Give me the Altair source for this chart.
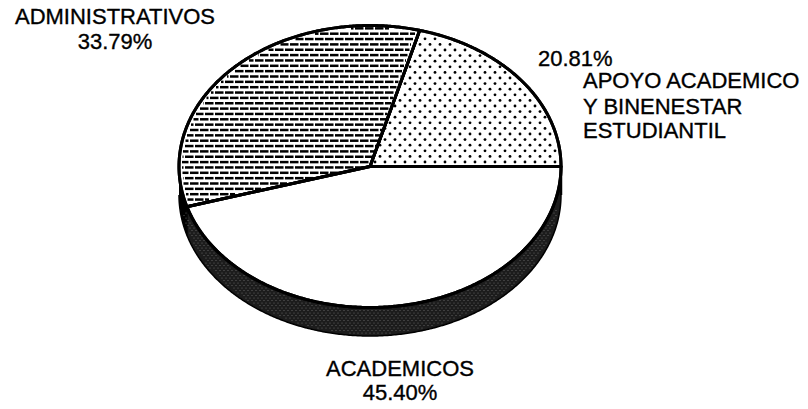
import math
import altair as alt
import pandas as pd

labels = ["APOYO ACADEMICO Y BINENESTAR ESTUDIANTIL", "ADMINISTRATIVOS", "ACADEMICOS"]
shares = [20.81, 33.79, 45.40]

W, H = 792, 393
CX, CY, RX, RY = 362, 158.5, 191, 141   # pie centre and radii in plot pixels
DEPTH = 28.5 / RY


def ux(px):
    return (px - CX) / RX


def uy(py):
    return (CY - py) / RY


x_scale = alt.Scale(domain=[ux(0), ux(W)], range=[0, W], nice=False, zero=False)
y_scale = alt.Scale(domain=[uy(H), uy(0)], range=[H, 0], nice=False, zero=False)
X = alt.X("x:Q", scale=x_scale, axis=None)
Y = alt.Y("y:Q", scale=y_scale, axis=None)

# wedge angles from the shares, starting east and going anticlockwise
edges = [0.0]
for s in shares:
    edges.append(edges[-1] + s * 3.6)


def arc(a0, a1, dy=0.0):
    n = max(2, int(abs(a1 - a0)) * 2)
    return [(math.cos(math.radians(a0 + (a1 - a0) * i / n)),
             math.sin(math.radians(a0 + (a1 - a0) * i / n)) - dy) for i in range(n + 1)]


def poly(pts, fill, stroke="#000000", sw=3.0):
    df = pd.DataFrame({"x": [p[0] for p in pts], "y": [p[1] for p in pts], "i": range(len(pts))})
    return alt.Chart(df).mark_line(fill=fill, stroke=stroke, strokeWidth=sw, strokeJoin="round").encode(
        x=X, y=Y, order="i:Q")


def wedge(a0, a1, fill):
    return poly([(0, 0)] + arc(a0, a1) + [(0, 0)], fill)


def inside(u, v, a0, a1, margin=0.985):
    if u * u + v * v > margin * margin:
        return False
    a = math.degrees(math.atan2(v, u)) % 360
    return a0 + 1.0 < a < a1 - 1.0


# texture of the two patterned wedges
dots = []
row = 0
py = 14.0
while py < 165:
    px = 362.0 + (5 if row % 2 else 0)
    while px < 560:
        u, v = ux(px), uy(py)
        if inside(u, v, edges[0], edges[1]) and v > 0.02:
            dots.append((u, v))
        px += 10
    py += 5.6
    row += 1
dots_df = pd.DataFrame(dots, columns=["x", "y"])

bricks = []
row = 0
py = 15.0
while py < 210:
    px = 162.0 + (5 if row % 2 else 0)
    while px < 430:
        xs = [px + t * 0.5 for t in range(0, 18)]
        keep = [x for x in xs if inside(ux(x), uy(py), edges[1], edges[2])]
        if len(keep) >= 2:
            bricks.append((ux(keep[0]), ux(keep[-1]), uy(py)))
        px += 10
    py += 5.35
    row += 1
bricks_df = pd.DataFrame(bricks, columns=["x", "x2", "y"])

# fine lighter specks on the dark side band
specks = []
row = 0
py = 160.0
while py < 335:
    px = 170.0 + (2 if row % 2 else 0)
    while px < 560:
        u, v = ux(px), uy(py)
        a = math.degrees(math.atan2(v, u)) % 360
        if u * u + v * v > 1.03 and u * u + (v + DEPTH) ** 2 < 0.97 and a > edges[2] + 2:
            specks.append((u, v))
        px += 4
    py += 2.5
    row += 1
specks_df = pd.DataFrame(specks, columns=["x", "y"])

side_gray = poly(arc(edges[2], 360) + arc(360, edges[2], DEPTH), "#1c1c1c", "#000000", 1.5)
side_black = poly(arc(180, edges[2]) + arc(edges[2], 180, DEPTH), "#000000", "#000000", 1.5)
right_edge = poly([(1, 0), (1, -DEPTH)], "#000000", "#000000", 2.5)

top_dots = wedge(edges[0], edges[1], "#ffffff")
top_bricks = wedge(edges[1], edges[2], "#ffffff")
top_plain = wedge(edges[2], edges[3], "#ffffff")

dot_layer = alt.Chart(dots_df).mark_point(filled=True, color="#000000", size=8, opacity=1).encode(x=X, y=Y)
brick_layer = alt.Chart(bricks_df).mark_rule(color="#000000", strokeWidth=2.5).encode(
    x=X, x2="x2:Q", y=alt.Y("y:Q", scale=y_scale, axis=None))
speck_layer = alt.Chart(specks_df).mark_point(filled=True, color="#8a8a8a", size=1.5, opacity=0.7).encode(x=X, y=Y)

outline_a = poly([(0, 0)] + arc(edges[0], edges[1]) + [(0, 0)], "transparent")
outline_b = poly([(0, 0)] + arc(edges[1], edges[2]) + [(0, 0)], "transparent")
outline_c = poly([(0, 0)] + arc(edges[2], edges[3]) + [(0, 0)], "transparent")

texts = pd.DataFrame({
    "t": ["ADMINISTRATIVOS", "33.79%", "ACADEMICOS", "45.40%"],
    "x": [ux(107), ux(107), ux(392), ux(392)],
    "y": [uy(15.5), uy(41), uy(368), uy(391.5)],
})
left_texts = pd.DataFrame({
    "t": ["20.81%", "APOYO ACADEMICO", "Y BINENESTAR", "ESTUDIANTIL"],
    "x": [ux(530), ux(575), ux(575), ux(575)],
    "y": [uy(58), uy(80), uy(106), uy(130)],
})
font = dict(font="Liberation Sans", color="#000000", baseline="alphabetic", fontSize=22,
            stroke="#000000", strokeWidth=0.35)
text_c = alt.Chart(texts).mark_text(align="center", **font).encode(x=X, y=Y, text="t:N")
text_l = alt.Chart(left_texts).mark_text(align="left", **font).encode(x=X, y=Y, text="t:N")

chart = alt.layer(
    side_gray, side_black, right_edge, speck_layer,
    top_dots, top_bricks, top_plain,
    dot_layer, brick_layer,
    outline_a, outline_b, outline_c,
    text_c, text_l,
).properties(width=W, height=H, padding=0, background="#ffffff",
             autosize=alt.AutoSizeParams(type="none")).configure_view(stroke=None, clip=False)

chart.save("out.html", embed_options={"renderer": "svg", "actions": False})
